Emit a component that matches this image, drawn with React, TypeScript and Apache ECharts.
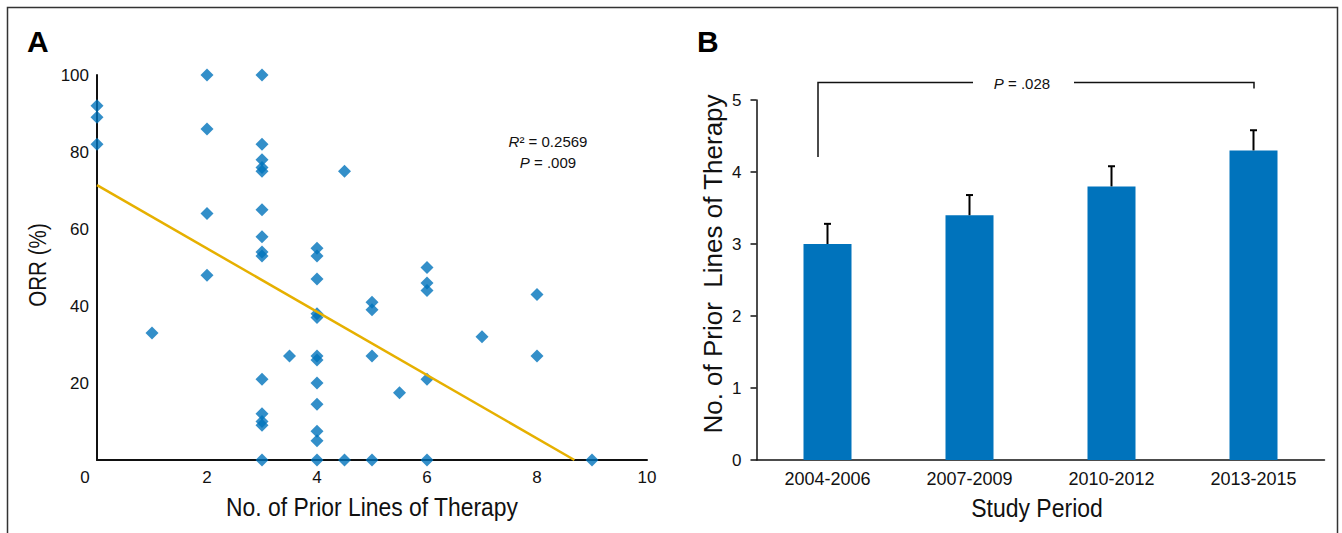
import React, { useEffect, useRef } from 'react';
import * as echarts from 'echarts';

// Panel A: ORR (%) vs. number of prior lines of therapy
const priorLines = [
  0, 0, 0,
  1,
  2, 2, 2, 2,
  3, 3, 3, 3, 3, 3, 3, 3, 3, 3, 3, 3, 3, 3,
  3.5,
  4, 4, 4, 4, 4, 4, 4, 4, 4, 4, 4, 4,
  4.5, 4.5,
  5, 5, 5, 5,
  5.5,
  6, 6, 6, 6, 6,
  7,
  8, 8,
  9,
];
const orrValues = [
  92, 89, 82,
  33,
  100, 86, 64, 48,
  100, 82, 78, 76, 75, 65, 58, 54, 53, 21, 12, 10, 9, 0,
  27,
  55, 53, 47, 38, 37, 27, 26, 20, 14.5, 7.5, 5, 0,
  75, 0,
  41, 39, 27, 0,
  17.5,
  50, 46, 44, 21, 0,
  32,
  43, 27,
  0,
];
const fitLineX = [0, 8.68];
const fitLineY = [71.4, 0];

// Panel B: mean number of prior lines by study period
const periods = ['2004-2006', '2007-2009', '2010-2012', '2013-2015'];
const meanLines = [3.0, 3.4, 3.8, 4.3];
const errUpper = [3.28, 3.68, 4.08, 4.58];

const FONT = "'Liberation Sans', Arial, Helvetica, sans-serif";
const BLUE = '#0073BC';
const INK = '#111';

export default function App() {
  const ref = useRef<HTMLDivElement>(null);

  useEffect(() => {
    document.body.style.margin = '0';
    const chart = echarts.init(ref.current as HTMLDivElement, null, { renderer: 'svg' });

    const scatterData = priorLines.map((x, i) => [x, orrValues[i]]);
    const fitData = fitLineX.map((x, i) => [x, fitLineY[i]]);
    const errData = periods.map((_, i) => [i, meanLines[i], errUpper[i]]);

    const option: any = {
      animation: false,
      backgroundColor: '#fff',
      textStyle: { fontFamily: FONT },
      grid: [
        { left: 97, top: 75, width: 550, height: 385 },
        { left: 756.5, top: 100, width: 568, height: 360 },
      ],
      xAxis: [
        {
          gridIndex: 0,
          type: 'value',
          min: 0,
          max: 10,
          interval: 2,
          axisLine: { show: true, onZero: false, lineStyle: { color: INK, width: 2 } },
          axisTick: { show: false },
          splitLine: { show: false },
          axisLabel: {
            fontSize: 17,
            color: INK,
            margin: 9,
            fontFamily: FONT,
            formatter: (v: number) => (v === 0 ? '' : String(v)),
          },
        },
        {
          gridIndex: 1,
          type: 'category',
          data: periods,
          axisLine: { show: true, lineStyle: { color: INK, width: 1.5 } },
          axisTick: { show: false },
          axisLabel: { fontSize: 18, color: INK, margin: 10, fontFamily: FONT },
        },
      ],
      yAxis: [
        {
          gridIndex: 0,
          type: 'value',
          min: 0,
          max: 100,
          interval: 20,
          axisLine: { show: true, onZero: false, lineStyle: { color: INK, width: 2 } },
          axisTick: { show: false },
          splitLine: { show: false },
          axisLabel: {
            fontSize: 17,
            color: INK,
            margin: 8,
            fontFamily: FONT,
            formatter: (v: number) => (v === 0 ? '' : String(v)),
          },
        },
        {
          gridIndex: 1,
          type: 'value',
          min: 0,
          max: 5,
          interval: 1,
          axisLine: { show: true, lineStyle: { color: INK, width: 1.5 } },
          axisTick: { show: true, inside: false, length: 6, lineStyle: { color: INK, width: 1.5 } },
          splitLine: { show: false },
          axisLabel: { fontSize: 17, color: INK, margin: 15, fontFamily: FONT },
        },
      ],
      series: [
        {
          type: 'scatter',
          xAxisIndex: 0,
          yAxisIndex: 0,
          data: scatterData,
          symbol: 'diamond',
          symbolSize: 13,
          clip: false,
          itemStyle: { color: BLUE },
          z: 2,
        },
        {
          type: 'line',
          xAxisIndex: 0,
          yAxisIndex: 0,
          data: fitData,
          showSymbol: false,
          symbol: 'none',
          lineStyle: { color: '#E6B000', width: 2.5 },
          z: 3,
        },
        {
          type: 'bar',
          xAxisIndex: 1,
          yAxisIndex: 1,
          data: meanLines,
          barWidth: 48,
          itemStyle: { color: BLUE },
        },
        {
          type: 'custom',
          xAxisIndex: 1,
          yAxisIndex: 1,
          data: errData,
          encode: { x: 0, y: [1, 2] },
          renderItem: (params: any, api: any) => {
            const base = api.coord([api.value(0), api.value(1)]);
            const top = api.coord([api.value(0), api.value(2)]);
            return {
              type: 'group',
              children: [
                {
                  type: 'line',
                  shape: { x1: top[0], y1: base[1], x2: top[0], y2: top[1] },
                  style: { stroke: '#000', lineWidth: 2 },
                },
                {
                  type: 'line',
                  shape: { x1: top[0] - 3.5, y1: top[1], x2: top[0] + 3.5, y2: top[1] },
                  style: { stroke: '#000', lineWidth: 2 },
                },
              ],
            };
          },
          z: 4,
        },
      ],
      graphic: [
        {
          type: 'rect',
          shape: { x: 7.5, y: 7.5, width: 1330, height: 600 },
          style: { fill: 'none', stroke: '#333', lineWidth: 1.5 },
          silent: true,
        },
        {
          type: 'text',
          x: 27,
          y: 41,
          style: { text: 'A', fontSize: 30, fontWeight: 'bold', fontFamily: FONT, fill: '#000', align: 'left', verticalAlign: 'middle' },
        },
        {
          type: 'text',
          x: 697,
          y: 41,
          style: { text: 'B', fontSize: 30, fontWeight: 'bold', fontFamily: FONT, fill: '#000', align: 'left', verticalAlign: 'middle' },
        },
        {
          type: 'text',
          x: 85,
          y: 477,
          style: { text: '0', fontSize: 17, fontFamily: FONT, fill: INK, align: 'center', verticalAlign: 'middle' },
        },
        {
          type: 'text',
          x: 38,
          y: 265,
          rotation: Math.PI / 2,
          scaleX: 0.86,
          style: { text: 'ORR (%)', fontSize: 24, fontFamily: FONT, fill: INK, align: 'center', verticalAlign: 'middle' },
        },
        {
          type: 'text',
          x: 372,
          y: 507,
          scaleX: 0.88,
          style: { text: 'No. of Prior Lines of Therapy', fontSize: 26, fontFamily: FONT, fill: INK, align: 'center', verticalAlign: 'middle' },
        },
        {
          type: 'text',
          x: 548,
          y: 141,
          style: {
            text: '{i|R}{n|² = 0.2569}',
            align: 'center',
            verticalAlign: 'middle',
            rich: {
              i: { fontSize: 15, fontStyle: 'italic', fontFamily: FONT, fill: INK },
              n: { fontSize: 15, fontFamily: FONT, fill: INK },
            },
          },
        },
        {
          type: 'text',
          x: 548,
          y: 162,
          style: {
            text: '{i|P}{n| = .009}',
            align: 'center',
            verticalAlign: 'middle',
            rich: {
              i: { fontSize: 15, fontStyle: 'italic', fontFamily: FONT, fill: INK },
              n: { fontSize: 15, fontFamily: FONT, fill: INK },
            },
          },
        },
        {
          type: 'text',
          x: 713,
          y: 264,
          rotation: Math.PI / 2,
          style: { text: 'No. of Prior  Lines of Therapy', fontSize: 26, fontFamily: FONT, fill: INK, align: 'center', verticalAlign: 'middle' },
        },
        {
          type: 'text',
          x: 1037,
          y: 508,
          scaleX: 0.92,
          style: { text: 'Study Period', fontSize: 25, fontFamily: FONT, fill: INK, align: 'center', verticalAlign: 'middle' },
        },
        {
          type: 'polyline',
          shape: { points: [[818, 157], [818, 82.5], [973, 82.5]] },
          style: { stroke: '#111', lineWidth: 1.5, fill: 'none' },
        },
        {
          type: 'polyline',
          shape: { points: [[1074, 82.5], [1254, 82.5], [1254, 88.5]] },
          style: { stroke: '#111', lineWidth: 1.5, fill: 'none' },
        },
        {
          type: 'text',
          x: 1022,
          y: 83,
          style: {
            text: '{i|P}{n| = .028}',
            align: 'center',
            verticalAlign: 'middle',
            rich: {
              i: { fontSize: 15, fontStyle: 'italic', fontFamily: FONT, fill: INK },
              n: { fontSize: 15, fontFamily: FONT, fill: INK },
            },
          },
        },
      ],
    };

    chart.setOption(option);
    return () => chart.dispose();
  }, []);

  return <div ref={ref} style={{ width: 1342, height: 533 }} />;
}
